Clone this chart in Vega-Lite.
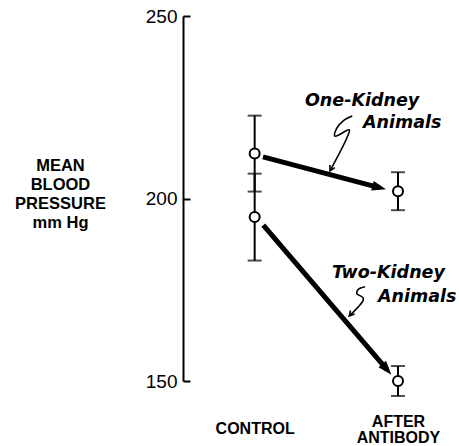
{
  "$schema": "https://vega.github.io/schema/vega-lite/v6.json",
  "width": 258,
  "height": 365,
  "autosize": {"type": "none"},
  "padding": {"left": 183, "top": 16, "right": 18, "bottom": 65},
  "background": "white",
  "config": {"view": {"stroke": null}},
  "datasets": {
    "means": [
      {"group": "One-Kidney", "stage": "CONTROL", "t": 0, "mean": 212.3, "lo": 201.9, "hi": 222.7},
      {"group": "Two-Kidney", "stage": "CONTROL", "t": 0, "mean": 194.9, "lo": 183.0, "hi": 206.8},
      {"group": "One-Kidney", "stage": "AFTER ANTIBODY", "t": 1, "mean": 202.0, "lo": 196.8, "hi": 207.2},
      {"group": "Two-Kidney", "stage": "AFTER ANTIBODY", "t": 1, "mean": 150.0, "lo": 145.9, "hi": 154.1}
    ],
    "arrows": [
      {"group": "One-Kidney", "t0": 0.058, "v0": 211.4, "t1": 0.869, "v1": 203.0},
      {"group": "Two-Kidney", "t0": 0.060, "v0": 192.7, "t1": 0.922, "v1": 153.2}
    ],
    "squiggles": [
      {"group": "One-Kidney", "seq": 1, "t": 0.681, "v": 222.6},
      {"group": "One-Kidney", "seq": 2, "t": 0.618, "v": 221.3},
      {"group": "One-Kidney", "seq": 3, "t": 0.572, "v": 219.2},
      {"group": "One-Kidney", "seq": 4, "t": 0.560, "v": 217.1},
      {"group": "One-Kidney", "seq": 5, "t": 0.660, "v": 218.8},
      {"group": "One-Kidney", "seq": 6, "t": 0.642, "v": 216.5},
      {"group": "One-Kidney", "seq": 7, "t": 0.526, "v": 207.6},
      {"group": "Two-Kidney", "seq": 1, "t": 0.770, "v": 175.8},
      {"group": "Two-Kidney", "seq": 2, "t": 0.723, "v": 175.1},
      {"group": "Two-Kidney", "seq": 3, "t": 0.712, "v": 174.0},
      {"group": "Two-Kidney", "seq": 4, "t": 0.754, "v": 172.9},
      {"group": "Two-Kidney", "seq": 5, "t": 0.758, "v": 172.2},
      {"group": "Two-Kidney", "seq": 6, "t": 0.660, "v": 167.8}
    ],
    "labels": [
      {"label": "One-Kidney", "t": 0.351, "v": 225.3},
      {"label": "Animals", "t": 0.756, "v": 219.3},
      {"label": "Two-Kidney", "t": 0.540, "v": 178.2},
      {"label": "Animals", "t": 0.860, "v": 171.6}
    ]
  },
  "layer": [
    {
      "data": {"name": "means"},
      "mark": {"type": "rule", "color": "black", "strokeWidth": 2},
      "encoding": {
        "x": {
          "field": "t", "type": "quantitative",
          "scale": {"domain": [-0.5, 1.3], "nice": false, "zero": false},
          "axis": {
            "title": null, "values": [0, 1],
            "labelExpr": "datum.value == 0 ? 'CONTROL' : ['AFTER', 'ANTIBODY']",
            "domain": false, "ticks": false, "grid": false,
            "labelPadding": {"condition": {"test": "datum.value == 0", "value": 47}, "value": 40},
            "labelBaseline": "middle", "labelLineHeight": 16.5,
            "labelFont": "Liberation Sans", "labelFontWeight": "bold", "labelFontSize": 16,
            "labelColor": "black", "labelFlush": false, "labelOverlap": false
          }
        },
        "y": {
          "field": "lo", "type": "quantitative",
          "scale": {"domain": [150, 250], "nice": false, "zero": false},
          "axis": {
            "title": ["MEAN", "BLOOD", "PRESSURE", "mm Hg"],
            "titleAngle": 0, "titleAlign": "center", "titleBaseline": "alphabetic",
            "titleX": -123, "titleY": 154.7, "titleLineHeight": 19,
            "titleFont": "Liberation Sans", "titleFontWeight": "bold", "titleFontSize": 16.5, "titleColor": "black",
            "values": [150, 200, 250], "grid": false,
            "domainColor": "black", "domainWidth": 2,
            "tickColor": "black", "tickWidth": 2, "tickSize": -7,
            "labelFont": "Liberation Sans", "labelFontSize": 19, "labelColor": "black",
            "labelPadding": 13, "labelFlush": false, "labelOverlap": false
          }
        },
        "y2": {"field": "hi"}
      }
    },
    {
      "data": {"name": "means"},
      "mark": {"type": "tick", "orient": "horizontal", "color": "black", "size": 14, "thickness": 2},
      "encoding": {
        "x": {"field": "t", "type": "quantitative"},
        "y": {"field": "lo", "type": "quantitative"}
      }
    },
    {
      "data": {"name": "means"},
      "mark": {"type": "tick", "orient": "horizontal", "color": "black", "size": 14, "thickness": 2},
      "encoding": {
        "x": {"field": "t", "type": "quantitative"},
        "y": {"field": "hi", "type": "quantitative"}
      }
    },
    {
      "data": {"name": "arrows"},
      "mark": {"type": "rule", "color": "black", "strokeWidth": 5},
      "encoding": {
        "x": {"field": "t0", "type": "quantitative"},
        "y": {"field": "v0", "type": "quantitative"},
        "x2": {"field": "t1"},
        "y2": {"field": "v1"}
      }
    },
    {
      "data": {"name": "arrows"},
      "mark": {"type": "point", "shape": "M-1,-0.7L1,0L-1,0.7Z", "filled": true, "color": "black", "opacity": 1, "size": 196},
      "encoding": {
        "x": {"field": "t1", "type": "quantitative"},
        "y": {"field": "v1", "type": "quantitative"},
        "angle": {"condition": {"test": "datum.group == 'One-Kidney'", "value": 14.7}, "value": 49.4}
      }
    },
    {
      "data": {"name": "means"},
      "mark": {"type": "point", "shape": "circle", "filled": true, "fill": "white", "stroke": "black", "strokeWidth": 2, "opacity": 1, "size": 100},
      "encoding": {
        "x": {"field": "t", "type": "quantitative"},
        "y": {"field": "mean", "type": "quantitative"}
      }
    },
    {
      "data": {"name": "squiggles"},
      "mark": {"type": "line", "color": "black", "strokeWidth": 1.6, "interpolate": "catmull-rom"},
      "encoding": {
        "x": {"field": "t", "type": "quantitative"},
        "y": {"field": "v", "type": "quantitative"},
        "detail": {"field": "group"},
        "order": {"field": "seq"}
      }
    },
    {
      "data": {"name": "squiggles"},
      "transform": [{"filter": "(datum.group == 'One-Kidney' && datum.seq == 7) || (datum.group == 'Two-Kidney' && datum.seq == 6)"}],
      "mark": {"type": "point", "shape": "M-2,-1.1L0,0L-2,1.1", "filled": false, "stroke": "black", "strokeWidth": 1.6, "opacity": 1, "size": 25},
      "encoding": {
        "x": {"field": "t", "type": "quantitative"},
        "y": {"field": "v", "type": "quantitative"},
        "angle": {"condition": {"test": "datum.group == 'One-Kidney'", "value": 117.3}, "value": 131.2}
      }
    },
    {
      "data": {"name": "labels"},
      "mark": {"type": "text", "align": "left", "baseline": "alphabetic", "font": "DejaVu Sans", "fontStyle": "italic", "fontWeight": "bold", "fontSize": 17.5, "color": "black"},
      "encoding": {
        "x": {"field": "t", "type": "quantitative"},
        "y": {"field": "v", "type": "quantitative"},
        "text": {"field": "label"}
      }
    }
  ]
}
